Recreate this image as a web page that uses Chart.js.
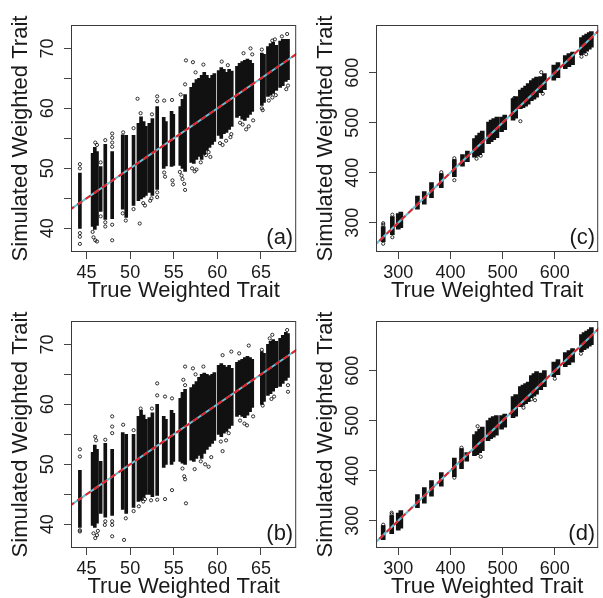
<!DOCTYPE html>
<html>
<head>
<meta charset="utf-8">
<script src="https://cdn.jsdelivr.net/npm/chart.js@4.4.1/dist/chart.umd.min.js"></script>
<style>
html, body { margin: 0; padding: 0; background: #fff; overflow: hidden; }
#wrap { position: relative; width: 603px; height: 598px; }
canvas { position: absolute; }
</style>
</head>
<body>
<div id="wrap">
  <canvas id="pa" width="301" height="302" style="left:0;top:0"></canvas>
  <canvas id="pc" width="302" height="302" style="left:301px;top:0"></canvas>
  <canvas id="pb" width="301" height="302" style="left:0;top:296px"></canvas>
  <canvas id="pd" width="302" height="302" style="left:301px;top:296px"></canvas>
</div>
<script>
// true trait values of the dense columns in (a) and (b)
var colXab = [44.24,45.7,45.95,46.2,46.62,47.15,47.94,49.15,49.55,50.39,50.95,51.25,51.55,51.8,52.2,52.55,53.1,53.85,54.1,54.75,54.95,55.75,56.0,56.3,57.0,57.3,57.6,57.9,58.2,58.5,58.8,59.1,59.4,59.65,60.15,60.45,60.75,61.05,61.35,61.65,62.25,62.55,62.85,63.15,63.45,63.75,64.0,65.1,65.35,65.8,66.1,66.4,66.75,67.2,67.5,67.85,68.1];

// (a) simulated range of each column, plus scattered points
var aColLow = [40.0,40.3,39.8,40.5,42.8,41.5,41.6,43.2,41.8,43.8,44.6,44.9,45.2,45.5,46.0,45.5,46.5,50.0,50.4,50.3,50.5,50.5,50.0,49.5,51.0,50.8,51.5,52.0,51.5,52.3,53.0,53.5,54.0,54.5,55.5,55.0,55.8,56.0,56.5,57.0,58.5,58.8,58.2,58.0,58.5,59.0,59.5,60.5,61.0,62.0,62.2,62.5,63.0,63.5,63.8,64.5,64.8];
var aColHigh = [49.2,52.5,53.5,52.8,50.3,54.0,52.8,55.6,55.5,55.5,57.5,58.6,57.8,57.0,57.5,58.3,60.3,58.5,57.8,59.5,59.0,60.3,61.5,62.3,63.5,64.2,64.8,65.0,65.5,66.0,65.5,65.0,65.5,65.8,66.3,66.8,66.5,66.0,66.5,66.2,67.0,67.5,67.8,68.0,68.2,68.0,67.5,69.2,69.0,70.3,70.8,71.0,70.5,71.2,71.5,71.5,71.5];
var aDotX = [44.24,44.24,44.24,44.24,44.24, 46.0,46.2,45.8,46.0,46.2,45.7, 46.62,46.62, 47.15,47.15,47.15, 47.94,47.94,47.94,47.94,47.94,47.94, 49.2,49.5,49.15, 50.39,50.39, 50.85,51.2,51.1,51.5,51.7, 52.3,52.45,52.5, 53.1,53.1,53.1,53.1, 53.9,54.0,53.9, 54.8,54.85,54.9, 56.4,56.3,55.8,55.9,56.0,56.2,56.3,55.7, 57.2,57.5,57.1,57.4,57.6, 58.4,58.1,58.7,59.0,59.2, 60.5,61.2,60.3,60.6,61.0,61.5,61.6, 63.0,63.8,64.0,62.9,63.3,63.6,64.1,62.6, 65.1,65.2,65.1, 66.3,66.6,65.9,66.3,66.7, 68.0,67.4,68.1,67.9];
var aDotY = [50.7,50.0,39.2,38.6,37.4, 54.3,53.9,38.5,38.0,37.8,39.4, 51.0,42.0, 54.7,41.0,40.3, 55.8,55.1,54.3,53.6,40.6,38.0, 56.0,41.3,42.5, 56.7,43.2, 61.6,59.2,40.8,44.2,43.8, 44.6,45.0,59.0, 62.0,61.2,46.0,45.2, 61.3,48.6,49.3, 61.4,48.0,47.3, 68.0,64.0,62.3,48.8,48.2,47.4,46.4,49.4, 67.7,66.0,50.0,49.5,49.8, 67.3,51.0,52.2,52.7,51.9, 67.8,67.2,54.2,53.9,54.6,55.2,55.7, 69.2,70.0,69.0,57.3,56.5,57.0,58.0,57.6, 69.8,59.7,60.0, 71.3,71.5,61.3,61.8,62.2, 72.4,72.0,63.8,63.2];

// (b)
var bColLow = [39.5,39.8,39.5,40.2,41.8,41.2,41.5,42.5,41.8,42.8,43.8,44.0,44.5,45.0,45.0,44.6,44.8,49.5,50.0,50.0,50.5,50.5,50.2,50.0,50.7,50.5,51.0,51.5,51.0,51.8,52.5,53.0,53.5,54.0,55.0,54.6,55.2,55.5,56.0,56.5,58.0,58.3,58.0,57.8,58.2,58.8,59.5,60.0,60.5,61.5,61.8,62.2,62.8,63.0,63.5,64.0,64.5];
var bColHigh = [49.0,52.0,53.2,52.5,50.5,53.5,52.5,55.3,55.0,55.0,58.0,59.0,58.2,57.5,57.8,58.6,60.0,58.0,57.5,59.0,58.5,61.0,62.0,62.5,62.8,63.3,63.8,64.5,65.0,65.2,65.0,64.8,65.0,65.3,66.5,66.8,66.5,66.2,66.5,66.0,67.0,67.3,67.5,67.8,68.0,67.8,67.5,68.8,68.5,70.0,70.5,70.8,70.5,71.0,71.5,72.0,71.8];
var bDotX = [44.24,44.24,44.24,44.24, 46.0,46.1,45.8,46.0,46.2,46.3, 47.15,47.15,47.1, 47.94,47.94,47.94,47.94,47.94,47.94, 49.2,49.3,49.5, 50.4,50.4, 51.2,51.0,51.5,51.7, 52.4,52.5, 53.1,53.1,53.1, 54.0,54.0, 54.8,54.8, 56.3,56.1,56.3,56.0,56.2,56.3,56.4, 57.2,57.5,57.4, 58.4,58.6,59.0,58.1,59.3, 60.6,61.6,60.4,60.6,61.0,61.3, 63.6,62.5,63.1,63.4,62.6,64.1, 65.1,65.2, 66.3,66.0,66.2,66.5, 68.0,68.1,68.1];
var bDotY = [52.5,51.3,38.8,39.0, 54.6,54.0,38.5,37.7,38.2,38.9, 54.1,40.5,39.9, 58.0,56.3,55.2,40.5,39.9,38.0, 56.6,37.4,41.0, 55.7,42.2, 59.3,43.0,43.8,44.2, 44.0,59.3, 63.5,61.5,44.1, 61.3,44.2, 61.0,45.7, 66.3,64.1,63.2,49.3,48.0,47.5,43.5, 66.0,65.0,49.2, 66.3,50.0,49.6,50.5,51.2, 68.2,68.8,53.8,52.2,54.0,55.2, 69.8,68.5,56.8,56.5,57.3,58.0, 69.1,59.8, 71.6,71.0,60.9,61.3, 72.4,62.1,63.2];

// (c)
var cColX = [271.2,288.7,300,305,336.8,349.9,363.7,382.5,407.5,423.1,432.5,446,451,456,461,473,478,483,489,498,504,520,525,534,539,544,549,555,560,565,573,580,598,606,620,627,634,651,656,661,666,670];
var cColLow = [262,276,287,290,327,337,350,370,392,413,422,431,433,436,440,458,462,466,470,482,486,505,509,528,530,533,537,544,547,551,560,566,585,590,608,612,616,636,640,643,647,651];
var cColHigh = [292,312,318,321,353,362,380,398,426,436,443,468,474,479,483,501,505,508,511,511,515,548,552,565,569,573,578,584,588,591,592,598,615,620,634,638,641,670,674,677,680,682];
var cDotX = [271.2,271.2,271.2,288.7,288.7,382.5,407.5,407.5,450,458,534,522,574,577,651,660];
var cDotY = [296,299,258,316,271,401,385,429,428,434,503,549,601,558,632,637];

// (d)
var dColX = [271.2,287.5,300,305,336.8,350,363.7,382.5,407.5,421.2,431.2,446,451,456,461,472,477,482,488,498,504,520,525,534,539,544,549,555,560,565,573,580,598,606,620,627,634,651,656,661,666,670];
var dColLow = [262,274,281,285,326,335,349,369,388,404,419,430,432,436,440,460,464,467,471,483,487,506,509,528,531,534,538,546,549,553,562,568,588,592,608,612,617,638,642,645,649,652];
var dColHigh = [290,310,315,320,352,366,380,396,425,444,436,472,478,483,487,500,505,508,510,510,513,548,552,568,571,574,577,590,594,598,595,600,617,622,636,640,644,672,676,679,682,686];
var dDotX = [271.2,287.5,287.5,421.2,458,452,407.5,540,555,562,600,650];
var dDotY = [292,313,316,446,428,489,386,526,543,541,584,634];

// 1:1 reference line ends
var refAB = [43, 70];
var refCD = [250, 690];

var FONT = '"Liberation Sans", Arial, sans-serif';
var INK = '#1a1a1a';

var framePlugin = {
    id: 'frame',
    afterDraw: function(chart, args, opts){
        var a = chart.chartArea, c = chart.ctx;
        c.save();
        c.strokeStyle = '#3a3a3a';
        c.lineWidth = 1;
        c.strokeRect(a.left + 0.5, a.top + 0.5, a.right - a.left - 1, a.bottom - a.top - 1);
        c.fillStyle = INK;
        c.font = '22px ' + FONT;
        c.textAlign = 'right';
        c.textBaseline = 'alphabetic';
        c.fillText(opts.tag, a.right - 3, a.bottom - 8);
        c.restore();
    }
};

function makePanel(id, p){
    var bars = p.colX.map(function(x, i){ return {x: x, y: [p.low[i], p.high[i]]}; });
    var dots = p.dotX.map(function(x, i){ return {x: x, y: p.dotY[i]}; });
    var line = p.ref.map(function(v){ return {x: v, y: v}; });
    return new Chart(document.getElementById(id).getContext('2d'), {
        type: 'bar',
        data: {
            datasets: [{
                type: 'line',
                data: line,
                borderColor: '#e4242c',
                borderWidth: 2,
                borderDash: [6, 4],
                pointRadius: 0,
                order: 0,
                clip: 0
            },{
                type: 'line',
                data: line,
                borderColor: '#6cc3d5',
                borderWidth: 2,
                pointRadius: 0,
                order: 1,
                clip: 0
            },{
                type: 'scatter',
                data: dots,
                pointRadius: 1.6,
                borderWidth: 0.8,
                borderColor: '#000',
                backgroundColor: 'rgba(0,0,0,0)',
                order: 2,
                clip: 0
            },{
                type: 'bar',
                data: bars,
                backgroundColor: '#111',
                borderWidth: 0,
                barThickness: p.barW,
                grouped: false,
                order: 3,
                clip: 0
            }]
        },
        options: {
            responsive: false,
            animation: false,
            devicePixelRatio: 1,
            layout: { padding: { left: 0, top: 25, right: p.padR, bottom: 0 } },
            plugins: { legend: { display: false }, tooltip: { enabled: false }, frame: { tag: p.tag } },
            scales: {
                x: {
                    type: 'linear',
                    min: p.xMin, max: p.xMax,
                    offset: false,
                    grid: { display: true, offset: false, drawOnChartArea: false, drawTicks: true, tickLength: 7, tickColor: '#444' },
                    border: { display: false },
                    ticks: {
                        stepSize: p.xStep, includeBounds: false, autoSkip: false, maxRotation: 0,
                        padding: 5, color: INK, font: { family: FONT, size: 18, lineHeight: 1 }
                    },
                    title: { display: true, text: 'True Weighted Trait', color: INK, padding: 0, font: { family: FONT, size: 22, lineHeight: 1 } },
                    afterFit: function(s){ s.height = 302 - 25 - 227; }
                },
                y: {
                    type: 'linear',
                    min: p.yMin, max: p.yMax,
                    grid: { display: true, drawOnChartArea: false, drawTicks: true, tickLength: 7, tickColor: '#444' },
                    border: { display: false },
                    ticks: {
                        stepSize: p.yStep, includeBounds: false, autoSkip: false,
                        minRotation: 90, maxRotation: 90, crossAlign: 'center',
                        padding: p.yPad, color: INK, font: { family: FONT, size: 18, lineHeight: 1 },
                        callback: function(v){ return v % p.yLabelStep === 0 ? String(v) : ''; }
                    },
                    title: { display: true, text: 'Simulated Weighted Trait', color: INK, padding: { top: p.yTitlePad, bottom: 0 }, font: { family: FONT, size: 22, lineHeight: 1 } },
                    afterFit: function(s){ s.width = p.yAxisW; }
                }
            }
        },
        plugins: [framePlugin]
    });
}

window.onload = function(){
    makePanel('pa', { tag: '(a)', colX: colXab, low: aColLow, high: aColHigh, dotX: aDotX, dotY: aDotY, ref: refAB,
        xMin: 43.22, xMax: 69.04, xStep: 5, yMin: 36.05, yMax: 73.9, yStep: 5, yLabelStep: 10,
        barW: 3, padR: 2, yAxisW: 71, yPad: 6, yTitlePad: 10 });
    makePanel('pb', { tag: '(b)', colX: colXab, low: bColLow, high: bColHigh, dotX: bDotX, dotY: bDotY, ref: refAB,
        xMin: 43.22, xMax: 69.04, xStep: 5, yMin: 36.05, yMax: 73.9, yStep: 5, yLabelStep: 10,
        barW: 3, padR: 2, yAxisW: 71, yPad: 6, yTitlePad: 10 });
    makePanel('pc', { tag: '(c)', colX: cColX, low: cColLow, high: cColHigh, dotX: cDotX, dotY: cDotY, ref: refCD,
        xMin: 257.4, xMax: 683.1, xStep: 100, yMin: 241.4, yMax: 695.4, yStep: 100, yLabelStep: 100,
        barW: 4, padR: 0, yAxisW: 75, yPad: 1, yTitlePad: 14 });
    makePanel('pd', { tag: '(d)', colX: dColX, low: dColLow, high: dColHigh, dotX: dDotX, dotY: dDotY, ref: refCD,
        xMin: 257.4, xMax: 683.1, xStep: 100, yMin: 245.4, yMax: 699.4, yStep: 100, yLabelStep: 100,
        barW: 4, padR: 0, yAxisW: 75, yPad: 1, yTitlePad: 14 });
};
</script>
</body>
</html>
